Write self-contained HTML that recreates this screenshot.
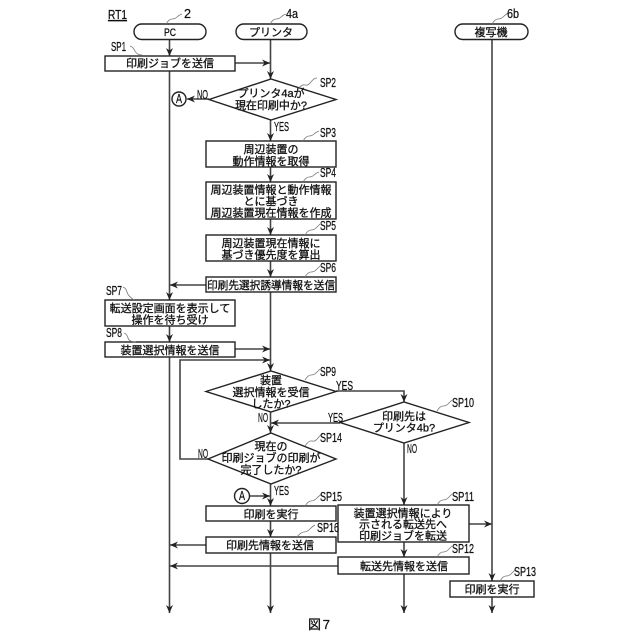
<!DOCTYPE html>
<html><head><meta charset="utf-8"><style>
html,body{margin:0;padding:0;background:#fff}
svg{display:block}
.j{font-family:"Liberation Sans","Noto Sans CJK JP",sans-serif;font-size:11px;fill:#111;stroke:#111;stroke-width:.3;text-anchor:middle}
.l{font-family:"Liberation Sans",sans-serif;font-size:12.5px;fill:#111;stroke:#111;stroke-width:.25}
.s{fill:none;stroke:#222;stroke-width:1.4}
.t{fill:none;stroke:#444;stroke-width:1.6}
.q{fill:none;stroke:#777;stroke-width:.8}
</style></head><body>
<svg width="640" height="640" viewBox="0 0 640 640" xmlns="http://www.w3.org/2000/svg">
<defs>
<marker id="a" markerUnits="userSpaceOnUse" markerWidth="9" markerHeight="8" refX="8" refY="4" orient="auto"><path d="M0 0.5L8 4L0 7.5L2.5 4Z" fill="#222"/></marker>
</defs>
<g class="t">
<path d="M169.5 40V56" marker-end="url(#a)"/>
<path d="M169.5 71V300" marker-end="url(#a)"/>
<path d="M169.5 326V342" marker-end="url(#a)"/>
<path d="M169.5 357V613" marker-end="url(#a)"/>
<path d="M270.5 40V79" marker-end="url(#a)"/>
<path d="M235 63H270" marker-end="url(#a)"/>
<path d="M209 99H187" marker-end="url(#a)"/>
<path d="M270.5 120V141" marker-end="url(#a)"/>
<path d="M270.5 167V182" marker-end="url(#a)"/>
<path d="M270.5 219V235" marker-end="url(#a)"/>
<path d="M270.5 261V277" marker-end="url(#a)"/>
<path d="M206 285H170" marker-end="url(#a)"/>
<path d="M270.5 292V371" marker-end="url(#a)"/>
<path d="M235 349H270" marker-end="url(#a)"/>
<path d="M208 459H180V360H270" marker-end="url(#a)"/>
<path d="M270.5 412V433" marker-end="url(#a)"/>
<path d="M336 391H404V402" marker-end="url(#a)"/>
<path d="M340 423H271" marker-end="url(#a)"/>
<path d="M404 443V505" marker-end="url(#a)"/>
<path d="M270.5 484V506" marker-end="url(#a)"/>
<path d="M249 496H270" marker-end="url(#a)"/>
<path d="M270.5 521V537" marker-end="url(#a)"/>
<path d="M270.5 553V613" marker-end="url(#a)"/>
<path d="M206 545H170" marker-end="url(#a)"/>
<path d="M338 566H170" marker-end="url(#a)"/>
<path d="M404 542V557" marker-end="url(#a)"/>
<path d="M404 574V613" marker-end="url(#a)"/>
<path d="M469 524H492" marker-end="url(#a)"/>
<path d="M492 40V581" marker-end="url(#a)"/>
<path d="M492 597V613" marker-end="url(#a)"/>
</g>
<g class="s" style="fill:#fff">
<rect x="134" y="24" width="72" height="15.5" rx="7.7"/>
<rect x="236" y="24" width="71" height="15.5" rx="7.7"/>
<rect x="455" y="24" width="73" height="15.5" rx="7.7"/>
<rect x="105" y="56" width="130" height="15"/>
<path d="M209 99.500L271 79L336 99.500L271 120Z"/>
<circle cx="179" cy="99" r="7"/>
<rect x="206" y="141" width="130" height="26"/>
<rect x="206" y="182" width="130" height="37"/>
<rect x="206" y="235" width="130" height="26"/>
<rect x="206" y="277" width="130" height="15"/>
<rect x="105" y="300" width="130" height="26"/>
<rect x="105" y="342" width="130" height="15"/>
<path d="M206 391.500L271 371L336 391.500L271 412Z"/>
<path d="M340 422.500L404 402L469 422.500L404 443Z"/>
<path d="M208 459L271 433L336 459L271 484Z"/>
<circle cx="242" cy="496" r="7.500"/>
<rect x="206" y="506" width="130" height="15"/>
<rect x="206" y="537" width="130" height="16"/>
<rect x="338" y="505" width="131" height="37"/>
<rect x="338" y="557" width="131" height="17"/>
<rect x="450" y="581" width="84" height="16"/>
</g>
<g class="q">
<path d="M166 24q3-5 6-5t5-2t5-3"/>
<path d="M270 24q3-5 6-5t5-2t5-3"/>
<path d="M492 24q3-5 6-5t5-2t5-4"/>
<path d="M130 46q3 1 5 5t7 4"/>
<path d="M298 89q4-5 7-4t6-3t6-4"/>
<path d="M303 141q3-5 6-5t5-2t5-3"/>
<path d="M303 182q3-5 6-5t5-2t5-3"/>
<path d="M305 235q3-5 6-5t5-2t4-4"/>
<path d="M305 277q3-5 6-5t5-2t4-4"/>
<path d="M123 287q3 1 4 5t7 8"/>
<path d="M124 333q3 1 4 5t8 4"/>
<path d="M305 380q3-5 6-5t5-2t4-4"/>
<path d="M437 411q3-5 6-5t5-2t4-4"/>
<path d="M305 446q4-6 7-5t6-3t5-4"/>
<path d="M305 506q3-5 6-5t6-3t5-4"/>
<path d="M297 537q4-5 7-5t6-3t5-4"/>
<path d="M437 505q3-5 6-5t5-2t4-4"/>
<path d="M437 557q3-5 6-5t5-2t4-4"/>
<path d="M500 581q3-5 6-5t5-2t4-4"/>
</g>
<g class="j">
<text x="170" y="36" textLength="12" lengthAdjust="spacingAndGlyphs">PC</text>
<text x="271" y="36">プリンタ</text>
<text x="491" y="36">複写機</text>
<text x="170" y="67">印刷ジョブを送信</text>
<text x="271" y="97">プリンタ4aが</text>
<text x="271" y="109">現在印刷中か?</text>
<text x="271" y="153">周辺装置の</text>
<text x="271" y="165">動作情報を取得</text>
<text x="271" y="193.500">周辺装置情報と動作情報</text>
<text x="271" y="205">とに基づき</text>
<text x="271" y="216.500">周辺装置現在情報を作成</text>
<text x="271" y="247">周辺装置現在情報に</text>
<text x="271" y="258.500">基づき優先度を算出</text>
<text x="271" y="289" textLength="128" lengthAdjust="spacingAndGlyphs">印刷先選択誘導情報を送信</text>
<text x="170" y="312">転送設定画面を表示して</text>
<text x="170" y="323.500">操作を待ち受け</text>
<text x="170" y="354">装置選択情報を送信</text>
<text x="271" y="384">装置</text>
<text x="271" y="396">選択情報を受信</text>
<text x="271" y="407.500">したか?</text>
<text x="404" y="420">印刷先は</text>
<text x="404" y="431.500">プリンタ4b?</text>
<text x="271" y="450">現在の</text>
<text x="271" y="461.500">印刷ジョブの印刷が</text>
<text x="271" y="473.500">完了したか?</text>
<text x="271" y="518">印刷を実行</text>
<text x="270" y="549">印刷先情報を送信</text>
<text x="403" y="517">装置選択情報により</text>
<text x="403" y="528">示される転送先へ</text>
<text x="403" y="539.500">印刷ジョブを転送</text>
<text x="404" y="570">転送先情報を送信</text>
<text x="492" y="593">印刷を実行</text>
<text x="319" y="629" style="font-size:13px" textLength="22">図 7</text>
</g>
<g class="l">
<text x="108" y="19" textLength="19" lengthAdjust="spacingAndGlyphs" text-decoration="underline">RT1</text>
<text x="184" y="18" textLength="7" lengthAdjust="spacingAndGlyphs">2</text>
<text x="286" y="18" textLength="12" lengthAdjust="spacingAndGlyphs">4a</text>
<text x="507" y="18" textLength="12" lengthAdjust="spacingAndGlyphs">6b</text>
<text x="111" y="51" textLength="15" lengthAdjust="spacingAndGlyphs">SP1</text>
<text x="320" y="87" textLength="16" lengthAdjust="spacingAndGlyphs">SP2</text>
<text x="320" y="137" textLength="16" lengthAdjust="spacingAndGlyphs">SP3</text>
<text x="320" y="177" textLength="16" lengthAdjust="spacingAndGlyphs">SP4</text>
<text x="320" y="230" textLength="16" lengthAdjust="spacingAndGlyphs">SP5</text>
<text x="320" y="272" textLength="16" lengthAdjust="spacingAndGlyphs">SP6</text>
<text x="106" y="295" textLength="16" lengthAdjust="spacingAndGlyphs">SP7</text>
<text x="106" y="337" textLength="16" lengthAdjust="spacingAndGlyphs">SP8</text>
<text x="320" y="376" textLength="16" lengthAdjust="spacingAndGlyphs">SP9</text>
<text x="452" y="407" textLength="22" lengthAdjust="spacingAndGlyphs">SP10</text>
<text x="320" y="442" textLength="22" lengthAdjust="spacingAndGlyphs">SP14</text>
<text x="320" y="501" textLength="22" lengthAdjust="spacingAndGlyphs">SP15</text>
<text x="317" y="532" textLength="22" lengthAdjust="spacingAndGlyphs">SP16</text>
<text x="452" y="501" textLength="22" lengthAdjust="spacingAndGlyphs">SP11</text>
<text x="452" y="553" textLength="22" lengthAdjust="spacingAndGlyphs">SP12</text>
<text x="514" y="576" textLength="22" lengthAdjust="spacingAndGlyphs">SP13</text>
<text x="197" y="99" textLength="11" lengthAdjust="spacingAndGlyphs">NO</text>
<text x="274" y="131" textLength="15" lengthAdjust="spacingAndGlyphs">YES</text>
<text x="336" y="390" textLength="17" lengthAdjust="spacingAndGlyphs">YES</text>
<text x="328" y="422" textLength="15" lengthAdjust="spacingAndGlyphs">YES</text>
<text x="258" y="422" textLength="10" lengthAdjust="spacingAndGlyphs">NO</text>
<text x="198" y="458" textLength="10" lengthAdjust="spacingAndGlyphs">NO</text>
<text x="274" y="495" textLength="15" lengthAdjust="spacingAndGlyphs">YES</text>
<text x="407" y="453" textLength="10" lengthAdjust="spacingAndGlyphs">NO</text>
<text x="176" y="103" textLength="6" lengthAdjust="spacingAndGlyphs">A</text>
<text x="239" y="500" textLength="6" lengthAdjust="spacingAndGlyphs">A</text>
</g>
</svg>
</body></html>
